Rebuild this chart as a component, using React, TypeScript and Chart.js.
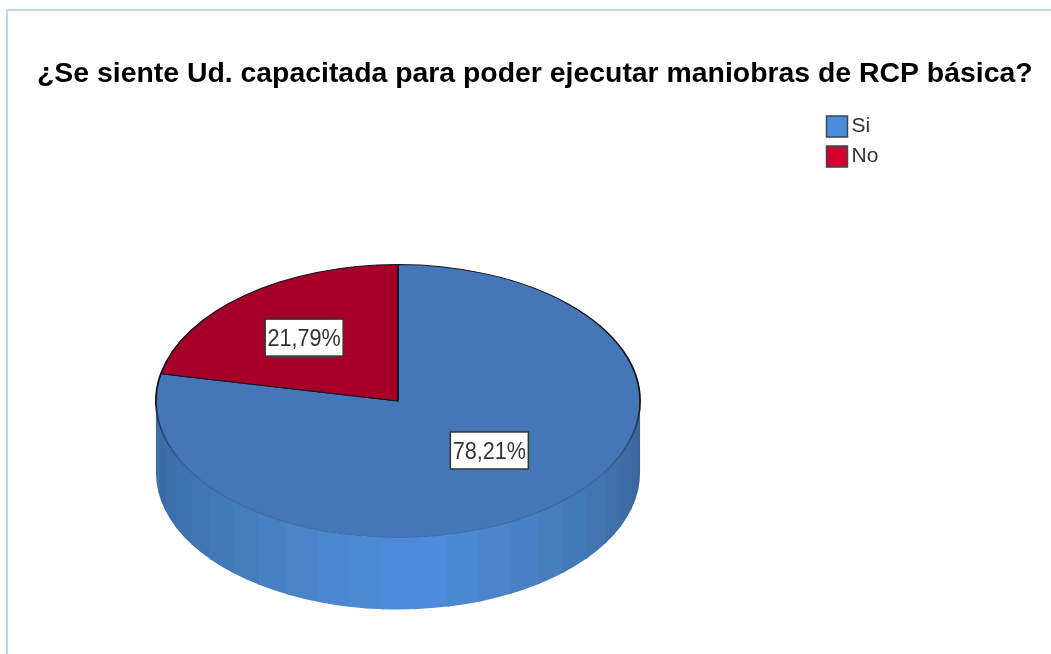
import React, { useEffect, useRef } from "react";
import { Chart, registerables } from "chart.js";

Chart.register(...registerables);

const titleText = "¿Se siente Ud. capacitada para poder ejecutar maniobras de RCP básica?";
const categories = ["Si", "No"];
const percentages = [78.21, 21.79];
const sliceColors = ["#4577b8", "#a60029"];
const legendColors = ["#4a8ddc", "#d2002f"];
const wallShades = [
  "#386aa3", "#3b6ca7", "#3d6fab", "#3f72b0", "#4175b4", "#4378b9", "#457cbe", "#4780c3",
  "#4984c9", "#4b87ce", "#4d8ad4", "#4e8cd9", "#4e8cd9", "#4c89d3", "#4a85cc", "#4881c5",
  "#467dbf", "#4479b9", "#4275b2", "#4070ab", "#3e6ca4", "#3b689e", "#386499",
];
// Small nudges of each value label away from its default spot on the slice.
const labelNudges = [
  { dx: -0.5, dy: -14 },
  { dx: -2, dy: 0 },
];

const FONT = '"Liberation Sans", Arial, sans-serif';
const SQUASH = 137 / 243;
const DEPTH = 72;
const PIE_CENTER_X = 398;

const placementPlugin = {
  id: "placement",
  afterLayout(chart: any) {
    const area = chart.chartArea;
    area.right = 2 * PIE_CENTER_X - area.left;
    area.width = area.right - area.left;
    chart.legend.left = 824;
    chart.legend.top = 107;
    chart.legend.bottom = 300;
  },
};

const pie3dPlugin = {
  id: "pie3d",
  beforeDatasetDraw(chart: any) {
    const ctx = chart.ctx;
    const arc = chart.getDatasetMeta(0).data[0];
    const { x: cx, y: cy, outerRadius: r } = arc;
    const ry = r * SQUASH;
    const n = wallShades.length;
    ctx.save();
    wallShades.forEach((shade, i) => {
      const a0 = Math.PI - (Math.PI * i) / n;
      const a1 = Math.PI - (Math.PI * (i + 1)) / n - (i < n - 1 ? 0.01 : 0);
      ctx.beginPath();
      ctx.ellipse(cx, cy, r, ry, 0, a0, a1, true);
      ctx.ellipse(cx, cy + DEPTH, r, ry, 0, a1, a0, false);
      ctx.closePath();
      ctx.fillStyle = shade;
      ctx.fill();
    });
    ctx.restore();
    ctx.save();
    ctx.translate(0, cy);
    ctx.scale(1, SQUASH);
    ctx.translate(0, -cy);
  },
  afterDatasetDraw(chart: any) {
    const ctx = chart.ctx;
    ctx.restore();
    const arcs = chart.getDatasetMeta(0).data;
    arcs.forEach((arc: any, i: number) => {
      const mid = (arc.startAngle + arc.endAngle) / 2;
      const x = arc.x + arc.outerRadius * 0.6 * Math.cos(mid) + labelNudges[i].dx;
      const y = arc.y + arc.outerRadius * SQUASH * 0.6 * Math.sin(mid) + labelNudges[i].dy;
      const w = 78;
      const h = 37;
      ctx.save();
      ctx.fillStyle = "#ffffff";
      ctx.strokeStyle = "#333333";
      ctx.lineWidth = 1.5;
      ctx.fillRect(x - w / 2, y - h / 2, w, h);
      ctx.strokeRect(x - w / 2, y - h / 2, w, h);
      ctx.translate(x, y);
      ctx.scale(0.9, 1);
      ctx.font = `24px ${FONT}`;
      ctx.fillStyle = "#333333";
      ctx.textAlign = "center";
      ctx.textBaseline = "middle";
      ctx.fillText(percentages[i].toFixed(2).replace(".", ",") + "%", 0, 1.5);
      ctx.restore();
    });
  },
};

export default function App() {
  const ref = useRef<HTMLCanvasElement>(null);
  useEffect(() => {
    const chart = new Chart(ref.current!, {
      type: "pie",
      data: {
        labels: categories,
        datasets: [
          {
            data: percentages,
            backgroundColor: sliceColors,
            borderWidth: 1.8,
            borderColor: (c: any) => {
              const { ctx, chartArea } = c.chart;
              const cy = (chartArea.top + chartArea.bottom) / 2;
              const g = ctx.createLinearGradient(0, cy, 0, chartArea.bottom);
              g.addColorStop(0, "#14141e");
              g.addColorStop(0.15, "#2a3a58");
              g.addColorStop(0.5, "#3a6296");
              g.addColorStop(1, "#3f6ea9");
              return g;
            },
          } as any,
        ],
      },
      options: {
        responsive: false,
        animation: false,
        events: [],
        layout: { padding: { left: 37, right: 0, top: 0, bottom: 10 } },
        plugins: {
          tooltip: { enabled: false },
          title: {
            display: true,
            text: titleText,
            align: "start",
            color: "#000000",
            font: { family: FONT, size: 28.4, weight: "bold" },
            padding: { top: 57, bottom: 67 },
          },
          legend: {
            display: true,
            position: "right",
            align: "start",
            labels: {
              usePointStyle: true,
              boxWidth: 8,
              padding: 9,
              color: "#333333",
              font: { family: FONT, size: 21 },
              generateLabels: () =>
                categories.map((text, i) => ({
                  text,
                  fillStyle: legendColors[i],
                  strokeStyle: "#3b4656",
                  lineWidth: 1.5,
                  pointStyle: "rect",
                  hidden: false,
                  index: i,
                  fontColor: "#333333",
                })),
            },
          },
        },
      } as any,
      plugins: [placementPlugin, pie3dPlugin] as any,
    });
    return () => chart.destroy();
  }, []);
  return (
    <div style={{ position: "fixed", left: 0, top: 0, width: 1051, height: 654, background: "#ffffff", overflow: "hidden" }}>
      <div
        style={{
          position: "absolute",
          left: 6,
          top: 9,
          right: 0,
          bottom: 0,
          borderLeft: "2px solid #bcd6f3",
          borderTop: "2px solid #bcd6f3",
        }}
      />
      <canvas ref={ref} width={1051} height={654} style={{ position: "absolute", left: 0, top: 0, display: "block" }} />
    </div>
  );
}
